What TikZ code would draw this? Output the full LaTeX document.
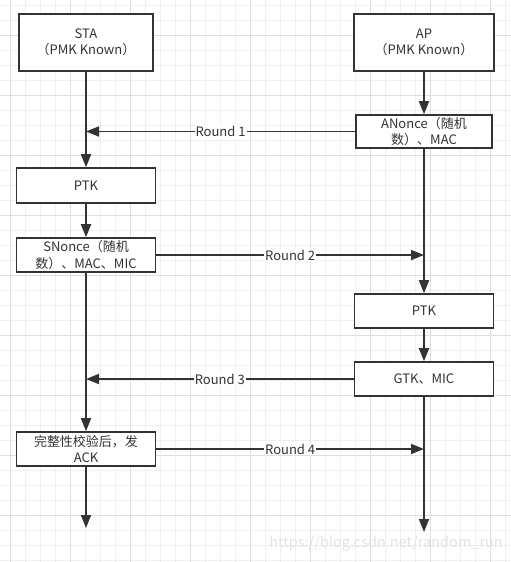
\documentclass[tikz,border=0pt]{standalone}
\usepackage{fontspec}
\setmainfont{Noto Sans CJK SC}
\usetikzlibrary{arrows.meta}
\definecolor{ink}{HTML}{333333}
\definecolor{gridminor}{HTML}{EFEFEF}
\definecolor{gridmajor}{HTML}{DEDEDE}
\begin{document}
\begin{tikzpicture}[x=1pt, y=-1pt,
			box/.style={draw=ink, line width=1.6pt, fill=white, text=ink, align=center,
				font=\fontsize{13}{16.5}\selectfont, inner sep=2pt},
			flow/.style={draw=ink, line width=1.8pt, -{Triangle[length=13pt,width=10pt]}},
			round label/.style={fill=white, text=ink, inner sep=1pt, font=\fontsize{13}{15}\selectfont}
			]
			\useasboundingbox (0,0) rectangle (511,562);
			\fill[white] (0,0) rectangle (511,562);
			% grid
			\foreach \gx in {10.7,25.7,...,511}
				\draw[gridminor, line width=1pt] (\gx,0) -- (\gx,562);
			\foreach \gy in {5,20,...,562}
				\draw[gridminor, line width=1pt] (0,\gy) -- (511,\gy);
			\foreach \gx in {10.7,70.7,...,511}
				\draw[gridmajor, line width=1pt] (\gx,0) -- (\gx,562);
			\foreach \gy in {35,95,...,562}
				\draw[gridmajor, line width=1pt] (0,\gy) -- (511,\gy);

			\def\xl{86}
			\def\xr{424}
			\node[box, minimum width=134, minimum height=57] (sta) at (\xl,42.5) {STA\\（PMK Known）};
			\node[box, minimum width=140, minimum height=57] (ap) at (\xr,42.5) {AP\\（PMK Known）};
			\node[box, minimum width=136, minimum height=33] (anonce) at (\xr,131.5) {ANonce（随机\\数）、MAC};
			\node[box, minimum width=139, minimum height=35] (ptkl) at (\xl,185.5) {PTK};
			\node[box, minimum width=139, minimum height=34] (snonce) at (\xl,255) {SNonce（随机\\数）、MAC、MIC};
			\node[box, minimum width=139, minimum height=34] (ptkr) at (\xr,311) {PTK};
			\node[box, minimum width=139, minimum height=34] (gtk) at (\xr,379) {GTK、MIC};
			\node[box, minimum width=139, minimum height=34] (ack) at (\xl,449) {完整性校验后，发\\ACK};
			\coordinate (endl) at (\xl,528);
			\coordinate (endr) at (\xr,532);

			\draw[flow] (sta) -- (ptkl);
			\draw[flow] (ptkl) -- (snonce);
			\draw[flow] (snonce) -- (ack);
			\draw[flow] (ack) -- (endl);
			\draw[flow] (ap) -- (anonce);
			\draw[flow] (anonce) -- (ptkr);
			\draw[flow] (ptkr) -- (gtk);
			\draw[flow] (gtk) -- (endr);

			\draw[flow] (anonce.west) -- node[round label] {Round 1} (anonce.west -| sta.south);
			\draw[flow] (snonce.east) -- node[round label] {Round 2} (snonce.east -| ap.south);
			\draw[flow] (gtk.west) -- node[round label] {Round 3} (gtk.west -| sta.south);
			\draw[flow] (ack.east) -- node[round label] {Round 4} (ack.east -| ap.south);

			\node[text=gray!22, font=\fontsize{14.5}{14.5}\selectfont, inner sep=0pt, anchor=east] (mark) at (503,544) {https://blog.csdn.net/random\_run};
		\end{tikzpicture}
\end{document}
